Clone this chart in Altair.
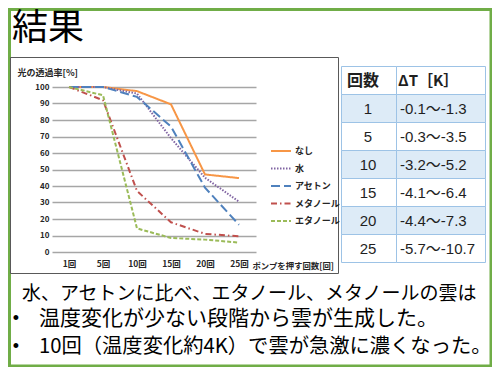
import altair as alt
import pandas as pd

# ---------------- data ----------------
counts = ["1回", "5回", "10回", "15回", "20回", "25回"]
series = ["なし", "水", "アセトン", "メタノール", "エタノール"]
nashi = [100, 100, 97.5, 89.5, 47, 44.8]
mizu = [100, 100, 96, 69, 45, 30.5]
aceton = [100, 100, 94, 76, 39, 16.5]
methanol = [100, 92, 37, 18, 11, 9.5]
ethanol = [100, 95, 14.3, 8.5, 7.5, 5.7]

table_header = ["回数", "ΔT［K］"]
table_n = ["1", "5", "10", "15", "20", "25"]
table_dt = ["-0.1～-1.3", "-0.3～-3.5", "-3.2～-5.2", "-4.1～-6.4", "-4.4～-7.3", "-5.7～-10.7"]

title_text = "結果"
note_lines = [
    "水、アセトンに比べ、エタノール、メタノールの雲は",
    "温度変化が少ない段階から雲が生成した。",
    "10回（温度変化約4K）で雲が急激に濃くなった。",
]
y_title = "光の透過率[%]"
x_title = "ポンプを押す回数[回]"

# ---------------- styles ----------------
JP = "Noto Sans CJK JP"
colors = ["#F79646", "#8064A2", "#4F81BD", "#C0504D", "#9BBB59"]
dashes = [[1, 0], [1.5, 1.5], [9, 4], [6, 3, 1.5, 3], [4, 2]]

values = [nashi, mizu, aceton, methanol, ethanol]
lines_df = pd.DataFrame({
    "回数": counts * len(series),
    "系列": [s for s in series for _ in counts],
    "透過率": [v for vals in values for v in vals],
})

table_df = pd.DataFrame({
    "row": [table_header[0]] + table_n,
    "c2": [table_header[1]] + table_dt,
})
row_order = [table_header[0]] + table_n

one = pd.DataFrame({"k": [0]})

# ---------------- decorations ----------------
green_border = alt.Chart(one).mark_rect(filled=False, stroke="#70AD47", strokeWidth=3).encode(
    x=alt.value(-42.5), x2=alt.value(439), y=alt.value(-77.5), y2=alt.value(279)
)
chart_box = alt.Chart(one).mark_rect(filled=False, stroke="#595959", strokeWidth=1).encode(
    x=alt.value(-41.5), x2=alt.value(286.5), y=alt.value(-29.5), y2=alt.value(186.5)
)
title = alt.Chart(one).mark_text(
    text=title_text, font=JP, fontSize=36, align="left", baseline="middle", color="#000000"
).encode(x=alt.value(-40), y=alt.value(-58))

note1 = alt.Chart(one).mark_text(
    text=note_lines[0], font=JP, fontSize=19, align="left", baseline="middle", color="#000000"
).encode(x=alt.value(-30), y=alt.value(207))
bullet2 = alt.Chart(one).mark_text(
    text="•", font="Liberation Sans", fontSize=18, align="center", baseline="middle", color="#000000"
).encode(x=alt.value(-36), y=alt.value(232))
note2 = alt.Chart(one).mark_text(
    text=note_lines[1], font=JP, fontSize=21, align="left", baseline="middle", color="#000000"
).encode(x=alt.value(-13), y=alt.value(232))
bullet3 = alt.Chart(one).mark_text(
    text="•", font="Liberation Sans", fontSize=18, align="center", baseline="middle", color="#000000"
).encode(x=alt.value(-36), y=alt.value(260))
note3 = alt.Chart(one).mark_text(
    text=note_lines[2], font=JP, fontSize=20.3, align="left", baseline="middle", color="#000000"
).encode(x=alt.value(-13), y=alt.value(260))

# ---------------- line chart ----------------
legend = alt.Legend(
    title=None, orient="none", legendX=218, legendY=53,
    symbolType="stroke", symbolSize=400, symbolStrokeWidth=2,
    labelFont=JP, labelFontSize=9, labelFontWeight="bold", labelColor="#262626",
    labelOffset=3, rowPadding=1.5, padding=0,
)
line = alt.Chart(lines_df).mark_line(strokeWidth=2, strokeCap="butt").encode(
    x=alt.X(
        "回数:N", sort=counts,
        scale=alt.Scale(type="point", padding=0.5),
        axis=alt.Axis(
            domain=False, ticks=False, grid=False, labelAngle=0,
            labelFont=JP, labelFontSize=8.5, labelFontWeight="bold", labelColor="#262626",
            labelPadding=7,
            title=x_title, titleFont=JP, titleFontSize=8.4, titleFontWeight="bold",
            titleColor="#262626", titleAlign="left", titleBaseline="middle",
            titleX=200, titleY=13, titleAngle=0,
        ),
    ),
    y=alt.Y(
        "透過率:Q",
        scale=alt.Scale(domain=[0, 100], nice=False),
        axis=alt.Axis(
            values=list(range(0, 101, 10)), domain=False, ticks=False,
            grid=True, gridColor="#A6A6A6", gridWidth=1.5,
            labelFont=JP, labelFontSize=8, labelFontWeight="bold", labelColor="#262626",
            labelPadding=3,
            title=y_title, titleFont=JP, titleFontSize=9, titleFontWeight="bold",
            titleColor="#262626", titleAngle=0, titleAlign="left", titleBaseline="middle",
            titleX=-35, titleY=-15,
        ),
    ),
    color=alt.Color("系列:N", sort=series, scale=alt.Scale(domain=series, range=colors), legend=legend),
    strokeDash=alt.StrokeDash("系列:N", sort=series, scale=alt.Scale(domain=series, range=dashes), legend=legend),
)

# ---------------- table ----------------
ty = alt.Y(
    "row:N", sort=row_order,
    scale=alt.Scale(type="band", domain=row_order, range=[-20.5, 175.5], paddingInner=0, paddingOuter=0),
    axis=None,
)
tbase = alt.Chart(table_df).transform_window(rn="row_number()")
fill = alt.condition("datum.rn % 2 == 0", alt.value("#DDEBF7"), alt.value("#FFFFFF"))

cells1 = tbase.mark_rect(stroke="#9DC3E6", strokeWidth=1).encode(
    y=ty, x=alt.value(289.5), x2=alt.value(344.5), fill=fill
)
cells2 = tbase.mark_rect(stroke="#9DC3E6", strokeWidth=1).encode(
    y=ty, x=alt.value(344.5), x2=alt.value(433.5), fill=fill
)
head1 = tbase.transform_filter("datum.rn == 1").mark_text(
    font=JP, fontSize=16, fontWeight="bold", align="left", baseline="middle", color="#1F1F1F"
).encode(y=ty, x=alt.value(295), text="row:N")
head2 = tbase.transform_filter("datum.rn == 1").mark_text(
    font=JP, fontSize=15, fontWeight="bold", align="left", baseline="middle", color="#1F1F1F"
).encode(y=ty, x=alt.value(346), text="c2:N")
body1 = tbase.transform_filter("datum.rn > 1").mark_text(
    font="Liberation Sans, Noto Sans CJK JP", fontSize=15, align="center", baseline="middle", color="#1F1F1F"
).encode(y=ty, x=alt.value(316), text="row:N")
body2 = tbase.transform_filter("datum.rn > 1").mark_text(
    font="Liberation Sans, Noto Sans CJK JP", fontSize=15, align="left", baseline="middle", color="#1F1F1F"
).encode(y=ty, x=alt.value(348), text="c2:N")

chart = alt.layer(
    green_border, chart_box, title, line,
    cells1, cells2, head1, head2, body1, body2,
    note1, bullet2, note2, bullet3, note3,
).resolve_scale(
    x="independent", y="independent"
).properties(
    width=204, height=165,
    autosize=alt.AutoSizeParams(type="none"),
    padding={"left": 44, "top": 79, "right": 236, "bottom": 115},
    background="white",
).configure_view(stroke=None)

chart.save("out.html", embed_options={"renderer": "svg", "actions": False})
